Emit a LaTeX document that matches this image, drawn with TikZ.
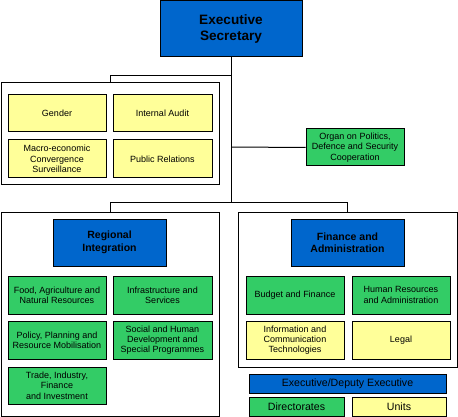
\documentclass[tikz,border=0pt]{standalone}
\usepackage{fontspec}
\setmainfont{Liberation Sans}
\definecolor{eblue}{HTML}{0066CC}
\definecolor{dgreen}{HTML}{33CC66}
\definecolor{uyellow}{HTML}{FFFF99}
\begin{document}
\begin{tikzpicture}[x=1pt,y=-1pt,
  every node/.style={inner sep=0pt, align=center},
  bx/.style={draw=black, line width=1pt, rectangle},
  frm/.style={bx, fill=white},
  bluebox/.style={bx, fill=eblue, font=\bfseries\fontsize{10.5}{12.5}\selectfont},
  greenbox/.style={bx, fill=dgreen, font=\fontsize{9}{10.3}\selectfont},
  yellowbox/.style={bx, fill=uyellow, font=\fontsize{9}{10.3}\selectfont},
  legtxt/.style={font=\fontsize{10.6}{12}\selectfont},
  conn/.style={draw=black, line width=1pt}
]
\useasboundingbox (0,0) rectangle (458,417);
% Executive Secretary
\node[bx, fill=eblue, minimum width=142pt, minimum height=56pt,
      font=\bfseries\fontsize{13.6}{15.5}\selectfont] (exec) at (231,28.8) {Executive\\Secretary};
% junctions
\coordinate (j1) at (231,76);
\coordinate (j2) at (231,147);
\coordinate (j3) at (231,202);
% Units frame
\node[frm, minimum width=218pt, minimum height=102pt] (uframe) at (110,134) {};
\node[yellowbox, minimum width=98pt, minimum height=37pt] (gender) at (57,113.5) {Gender};
\node[yellowbox, minimum width=99pt, minimum height=37pt] (audit) at (162.5,113.5) {Internal Audit};
\node[yellowbox, minimum width=98pt, minimum height=38pt] (macro) at (57,159) {Macro-economic\\Convergence\\Surveillance};
\node[yellowbox, minimum width=99pt, minimum height=38pt] (pr) at (162.5,159) {Public Relations};
% Organ
\node[greenbox, minimum width=98pt, minimum height=37pt] (organ) at (355,147.5) {Organ on Politics,\\Defence and Security\\Cooperation};
% Regional Integration frame
\node[frm, minimum width=218pt, minimum height=204pt] (rframe) at (110,314) {};
\node[bluebox, minimum width=113pt, minimum height=47pt] (ri) at (109.5,242.5) {Regional\\Integration};
\node[greenbox, minimum width=98pt, minimum height=38pt] (food) at (57,295) {Food, Agriculture and\\Natural Resources};
\node[greenbox, minimum width=99pt, minimum height=38pt] (infra) at (162.5,295) {Infrastructure and\\Services};
\node[greenbox, minimum width=98pt, minimum height=38pt] (policy) at (57,340) {Policy, Planning and\\Resource Mobilisation};
\node[greenbox, minimum width=99pt, minimum height=38pt] (social) at (162.5,340) {Social and Human\\Development and\\Special Programmes};
\node[greenbox, minimum width=98pt, minimum height=37pt] (trade) at (57,385.5) {Trade, Industry,\\Finance\\and Investment};
% Finance and Administration frame
\node[frm, minimum width=219pt, minimum height=155pt] (fframe) at (347.5,289.5) {};
\node[bluebox, minimum width=113pt, minimum height=47pt] (fa) at (347.5,242.5) {Finance and\\Administration};
\node[greenbox, minimum width=98pt, minimum height=38pt] (budget) at (295,295) {Budget and Finance};
\node[greenbox, minimum width=98pt, minimum height=38pt] (hr) at (401,295) {Human Resources\\and Administration};
\node[yellowbox, minimum width=98pt, minimum height=38pt] (ict) at (295,340) {Information and\\Communication\\Technologies};
\node[yellowbox, minimum width=98pt, minimum height=38pt] (legal) at (401,340) {Legal};
% Legend
\node[bx, fill=eblue, legtxt, minimum width=197pt, minimum height=19pt] (legexec) at (347.5,383.5) {Executive/Deputy Executive};
\node[bx, fill=dgreen, legtxt, minimum width=95pt, minimum height=19pt] (legdir) at (296.5,406.5) {Directorates};
\node[bx, fill=uyellow, legtxt, minimum width=94pt, minimum height=19pt] (legunits) at (399,406.5) {Units};
% Connectors
\draw[conn] (exec.south) -- (j3);
\draw[conn] (j1) -| (uframe.north);
\draw[conn] (j2) -- (organ.west);
\draw[conn] (j3) -| (rframe.north);
\draw[conn] (j3) -| (fframe.north);
\end{tikzpicture}
\end{document}
